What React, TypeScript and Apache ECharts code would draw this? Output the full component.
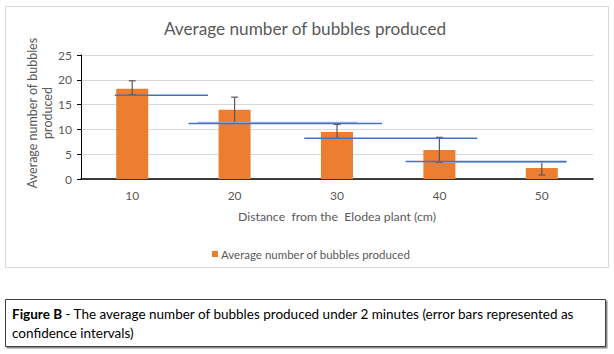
import React, { useEffect, useRef } from "react";
import * as echarts from "echarts";

const categories = ["10", "20", "30", "40", "50"];
const means = [18.2, 13.95, 9.5, 5.86, 2.22];
const ciLow = [17.0, 11.4, 8.2, 3.4, 0.8];
const ciHigh = [19.8, 16.5, 11.0, 8.4, 3.5];
const yTicks = [0, 5, 10, 15, 20, 25];

// hand-drawn horizontal lines (in category units along x, value units along y)
const trendLevels = [16.9, 11.2, 8.2, 3.55];
const trendStarts = [0.33, 1.05, 2.18, 3.17];
const trendEnds = [1.24, 2.94, 3.87, 4.74];
const overlayLevels = [11.4, 3.36];
const overlayStarts = [1.14, 3.54];
const overlayEnds = [2.7, 4.74];

const seriesName = "Average number of bubbles produced";
const FONT = "Lato, 'Open Sans', sans-serif";

export default function App() {
  const ref = useRef<HTMLDivElement>(null);
  useEffect(() => {
    if (!ref.current) return;
    const chart = echarts.init(ref.current, undefined, { renderer: "svg" });
    const lineSeries: any[] = [];
    trendLevels.forEach((lv, i) => {
      lineSeries.push({
        type: "line",
        xAxisIndex: 1,
        yAxisIndex: 0,
        data: [
          [trendStarts[i], lv],
          [trendEnds[i], lv],
        ],
        symbol: "none",
        lineStyle: { color: "#4472C4", width: 1.5 },
        z: 6,
        silent: true,
      });
    });
    overlayLevels.forEach((lv, i) => {
      lineSeries.push({
        type: "line",
        xAxisIndex: 1,
        yAxisIndex: 0,
        data: [
          [overlayStarts[i], lv],
          [overlayEnds[i], lv],
        ],
        symbol: "none",
        lineStyle: { color: "#9DB4E0", width: 1.5, opacity: 0.9 },
        z: 5,
        silent: true,
      });
    });

    chart.setOption({
      animation: false,
      textStyle: { fontFamily: FONT },
      grid: { left: 81, right: 21, top: 55, bottom: 175, containLabel: false },
      legend: {
        data: [seriesName],
        top: 243,
        left: 207,
        itemWidth: 6,
        itemHeight: 6,
        icon: "rect",
        itemGap: 0,
        textStyle: { fontSize: 11.5, color: "#595959", fontFamily: FONT, padding: [0, 0, 0, -2] },
      },
      xAxis: [
        {
          type: "category",
          data: categories,
          axisLine: { lineStyle: { color: "#000", width: 1.5 } },
          axisTick: { show: false },
          axisLabel: { color: "#595959", fontSize: 12, margin: 10, fontFamily: FONT },
        },
        {
          type: "value",
          min: 0,
          max: 5,
          show: false,
        },
      ],
      yAxis: {
        type: "value",
        min: yTicks[0],
        max: yTicks[yTicks.length - 1],
        interval: 5,
        axisLine: { show: true, lineStyle: { color: "#000", width: 1 } },
        axisTick: { show: true, length: 4, lineStyle: { color: "#000" } },
        axisLabel: { color: "#595959", fontSize: 12, margin: 9, fontFamily: FONT },
        splitLine: { lineStyle: { color: "#D9D9D9", width: 1 } },
      },
      series: [
        {
          name: seriesName,
          type: "bar",
          data: means,
          barWidth: 32,
          itemStyle: { color: "#ED7D31" },
          z: 2,
        },
        {
          type: "custom",
          z: 4,
          silent: true,
          data: means.map((_, i) => [i, ciLow[i], ciHigh[i]]),
          renderItem: (params: any, api: any) => {
            const lo = api.coord([api.value(0), api.value(1)]);
            const hi = api.coord([api.value(0), api.value(2)]);
            const cap = 3.5;
            const st = { stroke: "#595959", lineWidth: 1.2 };
            return {
              type: "group",
              children: [
                { type: "line", shape: { x1: hi[0], y1: hi[1], x2: lo[0], y2: lo[1] }, style: st },
                { type: "line", shape: { x1: hi[0] - cap, y1: hi[1], x2: hi[0] + cap, y2: hi[1] }, style: st },
                { type: "line", shape: { x1: lo[0] - cap, y1: lo[1], x2: lo[0] + cap, y2: lo[1] }, style: st },
              ],
            };
          },
        },
        ...lineSeries,
      ],
      graphic: [
        {
          type: "rect",
          shape: { x: 5.5, y: 6.5, width: 603, height: 261 },
          style: { fill: "none", stroke: "#D9D9D9", lineWidth: 1 },
          silent: true,
          z: -1,
        },
        {
          type: "text",
          x: 305,
          y: 28.5,
          style: {
            text: "Average number of bubbles produced",
            fontSize: 17.2,
            fill: "#595959",
            fontFamily: FONT,
            align: "center",
            verticalAlign: "middle",
          },
        },
        {
          type: "text",
          x: 40,
          y: 113,
          rotation: Math.PI / 2,
          style: {
            text: "Average number of bubbles\nproduced",
            fontSize: 12.5,
            lineHeight: 15,
            fill: "#595959",
            fontFamily: FONT,
            align: "center",
            verticalAlign: "middle",
          },
        },
        {
          type: "text",
          x: 337,
          y: 216,
          style: {
            text: "Distance  from the  Elodea plant (cm)",
            fontSize: 12.3,
            fill: "#595959",
            fontFamily: FONT,
            align: "center",
            verticalAlign: "middle",
          },
        },
        {
          type: "rect",
          shape: { x: 5.5, y: 299.5, width: 600, height: 47 },
          style: {
            fill: "#fff",
            stroke: "#404040",
            lineWidth: 1,
            shadowColor: "rgba(0,0,0,0.45)",
            shadowOffsetX: 1.5,
            shadowOffsetY: 1.5,
            shadowBlur: 1,
          },
          silent: true,
        },
        {
          type: "text",
          x: 12,
          y: 304,
          style: {
            text: "{b|Figure B} - The average number of bubbles produced under 2 minutes (error bars represented as\nconfidence intervals)",
            fontSize: 13.5,
            lineHeight: 19,
            fill: "#000",
            fontFamily: FONT,
            rich: {
              b: { fontWeight: "bold", fontSize: 13.5, fill: "#000", fontFamily: FONT, lineHeight: 19 },
            },
          },
        },
      ],
    });
    return () => chart.dispose();
  }, []);
  return (
    <div
      ref={ref}
      style={{ position: "fixed", left: 0, top: 0, width: 614, height: 354, background: "#fff" }}
    />
  );
}
